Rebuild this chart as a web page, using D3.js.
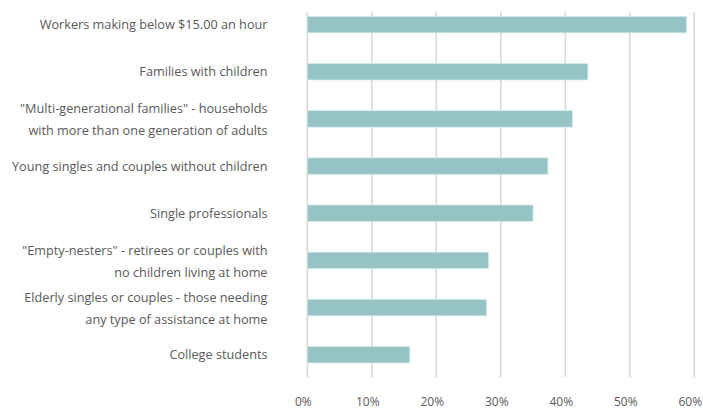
<!DOCTYPE html>
<html><head><meta charset="utf-8">
<script src="https://cdn.jsdelivr.net/npm/d3@7"></script>
<style>body{margin:0;background:#fff}svg{display:block}</style>
</head><body>
<svg id="c" width="703" height="409"></svg>
<script>
const categories = [
  ["Workers making below $15.00 an hour"],
  ["Families with children"],
  ["\"Multi-generational families\" - households", "with more than one generation of adults"],
  ["Young singles and couples without children"],
  ["Single professionals"],
  ["\"Empty-nesters\" - retirees or couples with", "no children living at home"],
  ["Elderly singles or couples - those needing", "any type of assistance at home"],
  ["College students"]
];
const values = [0.588, 0.435, 0.411, 0.373, 0.350, 0.281, 0.278, 0.159];
const tickValues = [0, 0.1, 0.2, 0.3, 0.4, 0.5, 0.6];

const svg = d3.select("#c");
const x = d3.scaleLinear().domain([0, 0.6]).range([307.3, 694.3]);
const y = d3.scaleBand().domain(d3.range(categories.length)).range([1, 378.3]).paddingInner(0.65).paddingOuter(0.325);

// gridlines
svg.append("g").selectAll("line").data(tickValues).join("line")
  .attr("x1", d => x(d)).attr("x2", d => x(d))
  .attr("y1", 12).attr("y2", 377)
  .attr("stroke", "#d9d9d9").attr("stroke-width", 1.6);

// bars
svg.append("g").selectAll("rect").data(values).join("rect")
  .attr("x", x(0)).attr("y", (d, i) => y(i))
  .attr("width", d => x(d) - x(0)).attr("height", y.bandwidth())
  .attr("fill", "#96c3c5").attr("stroke", "#d6eaea").attr("stroke-width", 0.8);

// category labels
const lab = svg.append("g").attr("font-family", "'Open Sans', sans-serif").attr("font-size", 12.7).attr("fill", "#595959");
categories.forEach((lines, i) => {
  const cy = y(i) + y.bandwidth() / 2 + (lines.length > 1 ? 1 : 0);
  const t = lab.append("text").attr("text-anchor", "end").attr("x", 267.5);
  lines.forEach((ln, j) => {
    t.append("tspan").attr("x", 267.5)
      .attr("y", cy + (j - (lines.length - 1) / 2) * 22)
      .attr("dy", "0.35em").text(ln);
  });
});

// x axis tick labels
svg.append("g").attr("font-family", "'Open Sans', sans-serif").attr("font-size", 12).attr("fill", "#595959")
  .selectAll("text").data(tickValues).join("text")
  .attr("x", d => x(d) - 4).attr("y", 405.5).attr("text-anchor", "middle")
  .text(d3.format(".0%"));
</script>
</body></html>
